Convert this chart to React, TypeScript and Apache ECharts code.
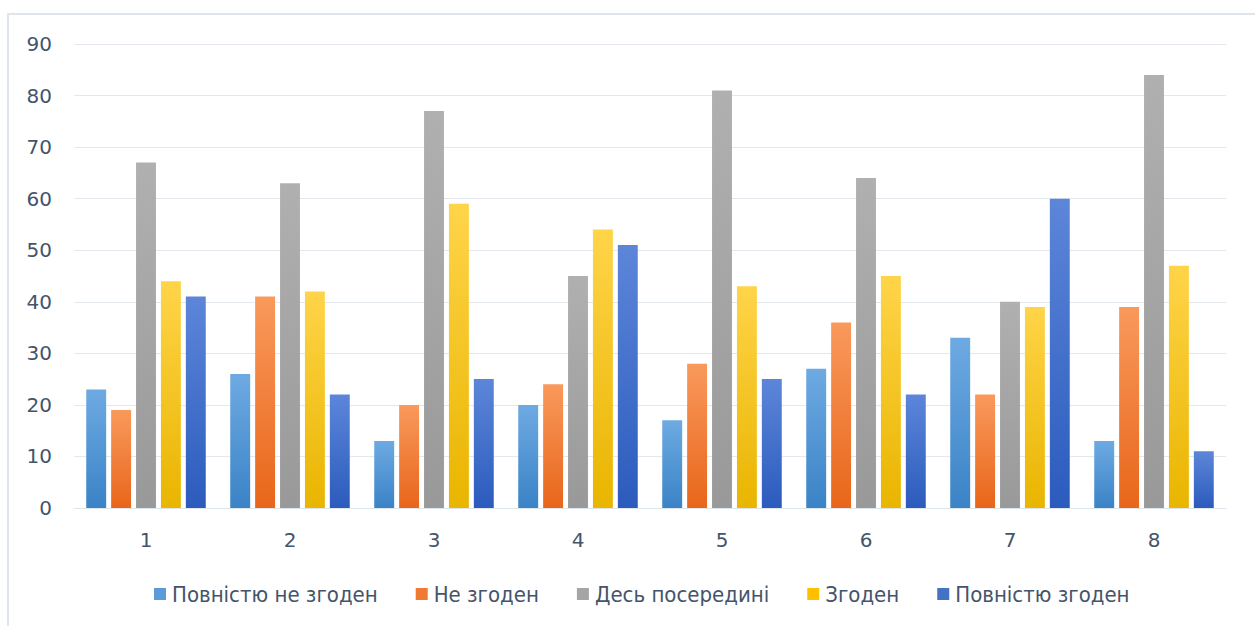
import React, { useEffect, useRef } from "react";
import * as echarts from "echarts";

const categories = ["1", "2", "3", "4", "5", "6", "7", "8"];
const seriesNames = ["Повністю не згоден", "Не згоден", "Десь посередині", "Згоден", "Повністю згоден"];
const fullyDisagree = [23, 26, 13, 20, 17, 27, 33, 13];
const disagree = [19, 41, 20, 24, 28, 36, 22, 39];
const neutral = [67, 63, 77, 45, 81, 64, 40, 84];
const agree = [44, 42, 59, 54, 43, 45, 39, 47];
const fullyAgree = [41, 22, 25, 51, 25, 22, 60, 11];
const seriesValues = [fullyDisagree, disagree, neutral, agree, fullyAgree];

const gradients: [string, string, string][] = [
  ["#6eaae2", "#3a83c6", "#5a9bd8"],
  ["#f9995c", "#e8661a", "#f07a33"],
  ["#b0b0b0", "#999999", "#a5a5a5"],
  ["#ffd449", "#e9b500", "#ffc000"],
  ["#5d86d9", "#2b5bbd", "#4472c4"],
];

export default function App() {
  const ref = useRef<HTMLDivElement>(null);
  useEffect(() => {
    const chart = echarts.init(ref.current!, null, { renderer: "svg" });
    chart.setOption({
      animation: false,
      backgroundColor: "#ffffff",
      graphic: [
        {
          type: "rect",
          shape: { x: 8, y: 14, width: 1300, height: 700 },
          style: { fill: "none", stroke: "#dfe5ec", lineWidth: 2 },
          silent: true,
        },
      ],
      grid: { left: 74, right: 29, top: 44, bottom: 118 },
      legend: {
        bottom: 16,
        left: 149,
        itemWidth: 12,
        itemHeight: 12,
        itemGap: 38,
        icon: "rect",
        textStyle: {
          fontFamily: "'DejaVu Sans Condensed', sans-serif",
          fontSize: 22,
          color: "#44546a",
          padding: [0, 0, 0, 1],
        },
        data: seriesNames.map((n, i) => ({ name: n, itemStyle: { color: gradients[i][2] } })),
      },
      xAxis: {
        type: "category",
        data: categories,
        axisLine: { lineStyle: { color: "#dfe5ec", width: 1 } },
        axisTick: { show: false },
        axisLabel: {
          color: "#44546a",
          fontFamily: "'DejaVu Sans', sans-serif",
          fontSize: 20,
          margin: 22,
        },
      },
      yAxis: {
        type: "value",
        min: 0,
        max: 90,
        interval: 10,
        axisLine: { show: false },
        axisTick: { show: false },
        splitLine: { lineStyle: { color: "#e3e8ef", width: 1 } },
        axisLabel: {
          color: "#44546a",
          fontFamily: "'DejaVu Sans', sans-serif",
          fontSize: 20,
          margin: 22,
        },
      },
      series: seriesValues.map((vals, i) => ({
        name: seriesNames[i],
        type: "bar",
        data: vals,
        barGap: "25%",
        barCategoryGap: "17%",
        itemStyle: {
          color: new echarts.graphic.LinearGradient(0, 0, 0, 1, [
            { offset: 0, color: gradients[i][0] },
            { offset: 1, color: gradients[i][1] },
          ]),
        },
      })),
    });
    return () => chart.dispose();
  }, []);
  return (
    <div
      ref={ref}
      style={{ position: "fixed", left: 0, top: 0, width: 1255, height: 626 }}
    />
  );
}
